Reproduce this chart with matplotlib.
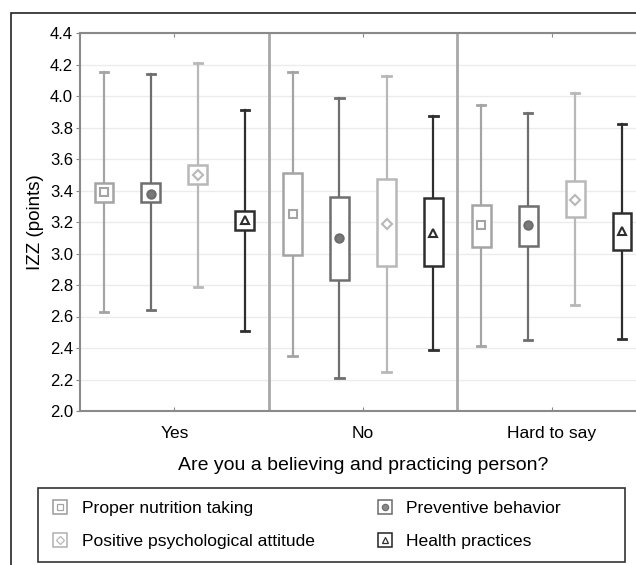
import matplotlib
matplotlib.use("Agg")
import matplotlib.pyplot as plt
from matplotlib.lines import Line2D
from matplotlib.patches import Rectangle
from matplotlib.legend_handler import HandlerTuple
import numpy as np

plt.rcParams['font.family'] = ['Liberation Sans', 'DejaVu Sans']

categories = ["Yes", "No", "Hard to say"]
series = ["Proper nutrition taking", "Preventive behavior",
          "Positive psychological attitude", "Health practices"]

# per series: values for [Yes, No, Hard to say]
whisk_hi = {
    "Proper nutrition taking":         [4.15, 4.15, 3.94],
    "Preventive behavior":             [4.14, 3.99, 3.89],
    "Positive psychological attitude": [4.21, 4.13, 4.02],
    "Health practices":                [3.91, 3.87, 3.82],
}
box_hi = {
    "Proper nutrition taking":         [3.45, 3.51, 3.31],
    "Preventive behavior":             [3.45, 3.36, 3.30],
    "Positive psychological attitude": [3.56, 3.47, 3.46],
    "Health practices":                [3.27, 3.35, 3.26],
}
center = {
    "Proper nutrition taking":         [3.39, 3.25, 3.18],
    "Preventive behavior":             [3.38, 3.10, 3.18],
    "Positive psychological attitude": [3.50, 3.19, 3.34],
    "Health practices":                [3.21, 3.13, 3.14],
}
box_lo = {
    "Proper nutrition taking":         [3.33, 2.99, 3.04],
    "Preventive behavior":             [3.33, 2.83, 3.05],
    "Positive psychological attitude": [3.44, 2.92, 3.23],
    "Health practices":                [3.15, 2.92, 3.02],
}
whisk_lo = {
    "Proper nutrition taking":         [2.63, 2.35, 2.41],
    "Preventive behavior":             [2.64, 2.21, 2.45],
    "Positive psychological attitude": [2.79, 2.25, 2.67],
    "Health practices":                [2.51, 2.39, 2.46],
}

colors = {
    "Proper nutrition taking": "#a4a4a4",
    "Preventive behavior": "#6e6e6e",
    "Positive psychological attitude": "#b8b8b8",
    "Health practices": "#2e2e2e",
}
markers = {
    "Proper nutrition taking": ("s", "white"),
    "Preventive behavior": ("o", "#7a7a7a"),
    "Positive psychological attitude": ("D", "white"),
    "Health practices": ("^", "white"),
}
offsets = [-0.373, -0.125, 0.125, 0.373]
box_w = 0.1

W, H = 636, 565
fig = plt.figure(figsize=(W / 100, H / 100), dpi=100)
ax = fig.add_axes([80 / W, 1 - 411 / H, (646 - 80) / W, (411 - 33) / H])

# outer frame
fig.patches.append(Rectangle((11 / W, -0.05), 1.2, 1 - 13 / H + 0.05,
                             transform=fig.transFigure, fill=False,
                             edgecolor="#222222", lw=1.2))

ax.set_ylim(2.0, 4.4)
ax.set_xlim(-0.5, 2.5)
ax.set_yticks(np.arange(2.0, 4.41, 0.2))
ax.set_yticklabels([f"{v:.1f}" for v in np.arange(2.0, 4.41, 0.2)])
ax.yaxis.grid(True, color="#ececec", lw=1)
ax.set_axisbelow(True)
for xs in [0.5, 1.5]:
    ax.axvline(xs, color="#a8a8a8", lw=2, zorder=1)

for si, s in enumerate(series):
    c = colors[s]
    mk, mf = markers[s]
    for ci in range(len(categories)):
        x = ci + offsets[si]
        lo, hi = whisk_lo[s][ci], whisk_hi[s][ci]
        blo, bhi = box_lo[s][ci], box_hi[s][ci]
        ax.plot([x, x], [bhi, hi], color=c, lw=1.6, zorder=2)
        ax.plot([x, x], [lo, blo], color=c, lw=1.6, zorder=2)
        ax.plot([x - 0.022, x + 0.022], [hi, hi], color=c, lw=2, zorder=2)
        ax.plot([x - 0.022, x + 0.022], [lo, lo], color=c, lw=2, zorder=2)
        ax.add_patch(Rectangle((x - box_w / 2, blo), box_w, bhi - blo,
                               facecolor="white", edgecolor=c, lw=1.8, zorder=3))
        ms = 6 if mk != "D" else 5
        ax.plot([x], [center[s][ci]], marker=mk, ms=ms, mfc=mf, mec=c,
                mew=1.5, zorder=4)

ax.set_xticks(range(len(categories)))
ax.set_xticklabels(categories, fontsize=12.5)
ax.tick_params(axis="x", direction="in", length=3, color="#888888",
               top=True, pad=11)
ax.tick_params(axis="y", direction="out", length=3, color="#888888",
               labelsize=12, pad=2)
for sp in ["left", "bottom", "top"]:
    ax.spines[sp].set_color("#8a8a8a")
    ax.spines[sp].set_linewidth(1.5)
ax.spines["right"].set_visible(False)

ax.set_ylabel("IZZ (points)", fontsize=13.5, labelpad=4)
ax.set_xlabel("Are you a believing and practicing person?", fontsize=14,
              labelpad=11)

# legend frame
fig.patches.append(Rectangle((38 / W, 1 - 562 / H), (625 - 38) / W, (562 - 488) / H,
                             transform=fig.transFigure, fill=False,
                             edgecolor="#333333", lw=1.2))
handles = []
edge_leg = {
    "Proper nutrition taking": "#9a9a9a",
    "Preventive behavior": "#6a6a6a",
    "Positive psychological attitude": "#b0b0b0",
    "Health practices": "#222222",
}
for s in series:
    mk, mf = markers[s]
    outer = Line2D([], [], ls="none", marker="s", ms=10.5, mfc="white",
                   mec=edge_leg[s], mew=1.1)
    inner = Line2D([], [], ls="none", marker=mk, ms=4.5 if mk != "D" else 4,
                   mfc=mf if mf == "white" else "#8a8a8a",
                   mec=colors[s], mew=0.9)
    handles.append((outer, inner))
order = [0, 2, 1, 3]
leg = fig.legend([handles[i] for i in order], [series[i] for i in order],
                 handler_map={tuple: HandlerTuple(ndivide=1, pad=0)},
                 ncol=2, frameon=False, fontsize=12.6,
                 loc="upper left", bbox_to_anchor=(51 / W, 1 - 501 / H),
                 handlelength=1.0, handletextpad=0.75, columnspacing=3.5,
                 labelspacing=0.98, borderaxespad=0, borderpad=0)

fig.savefig("out.png", dpi=100)
